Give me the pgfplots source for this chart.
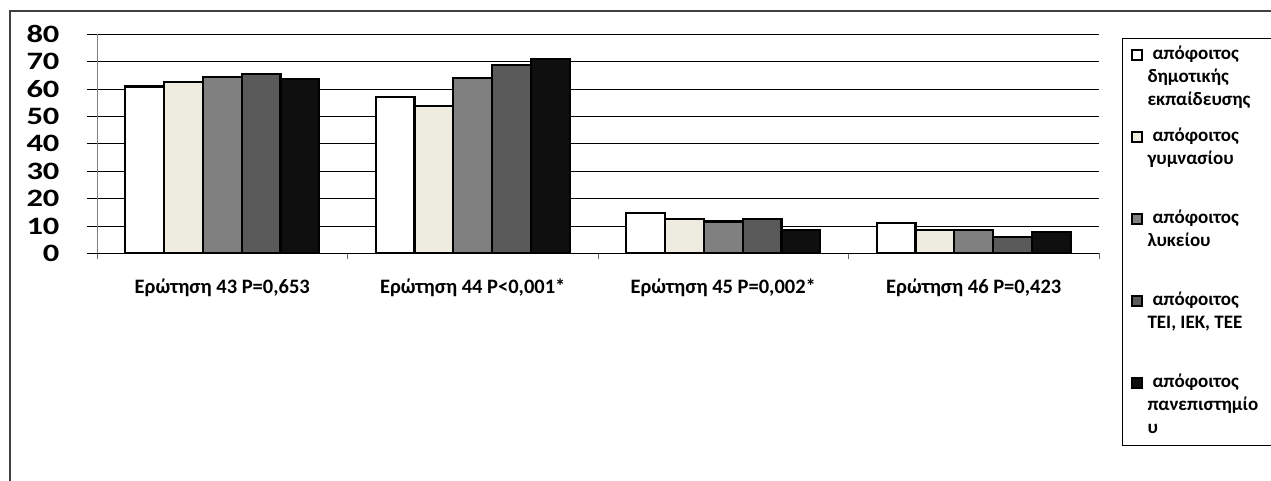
\documentclass[border=0pt]{standalone}
\usepackage{pgfplots}
\pgfplotsset{compat=1.18}
\usepackage{fontspec}
\setmainfont{Carlito}
\newfontfamily\tickfont[FakeStretch=1.3]{Carlito}
\definecolor{c1}{HTML}{FFFFFF}
\definecolor{c2}{HTML}{EEECE1}
\definecolor{c3}{HTML}{808080}
\definecolor{c4}{HTML}{5A5A5A}
\definecolor{c5}{HTML}{0F0F0F}
\newcommand{\lentii}[2]{{\fontsize{19}{23}\bfseries\selectfont\vtop{\hbox to 121pt{\hspace*{5pt}#1\hfil}\hbox to 121pt{#2\hfil}}}}
\newcommand{\lentiii}[3]{{\fontsize{19}{23}\bfseries\selectfont\vtop{\hbox to 121pt{\hspace*{5pt}#1\hfil}\hbox to 121pt{#2\hfil}\hbox to 121pt{#3\hfil}}}}
\begin{document}
\begin{tikzpicture}[x=1pt,y=1pt]
\useasboundingbox (0,0) rectangle (1271,480);
\fill[white] (0,0) rectangle (1271,480);
\draw[line width=1.5pt, color=black!75] (10,-20) rectangle (1290,469);
\begin{axis}[
  at={(97pt,226.7pt)}, anchor=south west,
  scale only axis, width=1002pt, height=219pt,
  xmin=-0.5, xmax=3.5, ymin=0, ymax=80,
  ybar=0pt, bar width=38.8pt,
  axis x line*=bottom, axis y line*=left,
  x axis line style={black, line width=0.8pt, -},
  y axis line style={black!50, line width=0.8pt, -},
  ytick={0,10,...,80},
  ymajorgrids, grid style={black, line width=0.8pt},
  xtick={0,1,2,3},
  xticklabels={{Ερώτηση 43 P=0,653}, {Ερώτηση 44 P<0,001*}, {Ερώτηση 45 P=0,002*}, {Ερώτηση 46 P=0,423}},
  minor xtick={-0.5,0.5,1.5,2.5,3.5},
  tick align=outside,
  major x tick style={draw=none},
  minor x tick style={black!60, line width=0.8pt},
  major y tick style={black, line width=0.8pt},
  major tick length=10pt, minor tick length=6pt,
  /pgf/number format/assume math mode=true,
  yticklabel style={font=\tickfont\fontsize{25}{25}\fontseries{b}\selectfont, anchor=east, xshift=-24pt},
  xticklabel style={font=\bfseries\fontsize{20.5}{24}\selectfont, anchor=base, yshift=-30pt},
  legend style={at={(1.023,0.9836)}, anchor=north west, draw=black, line width=1pt,
    inner sep=4pt, row sep=11pt,
    nodes={text height=15pt, text depth=52pt, inner sep=2pt}},
  legend cell align=left,
  legend image code/.code={\path[draw=none,fill=none] (0pt,0pt) -- (19pt,0pt);
    \draw[#1,draw=black,line width=1.8pt] (5.4pt,17.8pt) rectangle (15.2pt,27.6pt);},
  clip=false,
]
\addplot[fill=c1, draw=black, line width=2.2pt] coordinates {(0,60.9) (1,57.0) (2,14.8) (3,11.0)};
\addplot[fill=c2, draw=black, line width=2.2pt] coordinates {(0,62.7) (1,53.8) (2,12.4) (3,8.5)};
\addplot[fill=c3, draw=black, line width=2.2pt] coordinates {(0,64.5) (1,63.9) (2,11.6) (3,8.5)};
\addplot[fill=c4, draw=black, line width=2.2pt] coordinates {(0,65.5) (1,68.7) (2,12.5) (3,6.1)};
\addplot[fill=c5, draw=black, line width=2.2pt] coordinates {(0,63.6) (1,71.1) (2,8.5) (3,7.7)};
\addlegendentry{\lentiii{απόφοιτος}{δημοτικής}{εκπαίδευσης}}
\addlegendentry{\lentii{απόφοιτος}{γυμνασίου}}
\addlegendentry{\lentii{απόφοιτος}{λυκείου}}
\addlegendentry{\lentii{απόφοιτος}{TEI, IEK, TEE}}
\addlegendentry{\lentiii{απόφοιτος}{πανεπιστημίο}{υ}}
\end{axis}
\end{tikzpicture}
\end{document}
